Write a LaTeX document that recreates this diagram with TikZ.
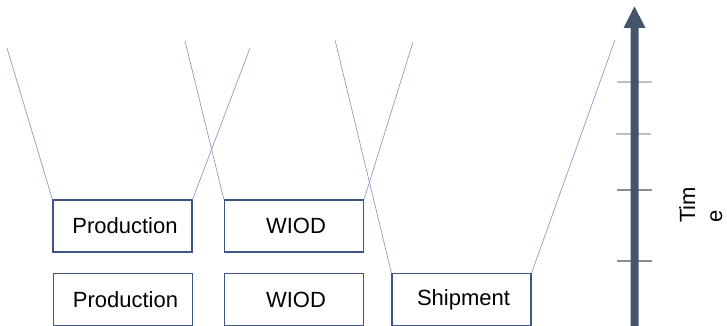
\documentclass[tikz,border=0pt]{standalone}
\usepackage{fontspec}
\setmainfont{Liberation Sans}
\definecolor{boxc}{HTML}{3F5586}
\definecolor{linec}{HTML}{8C9DBF}
\definecolor{arrc}{HTML}{44546A}
\definecolor{tickl}{HTML}{BFBFBF}
\definecolor{tickd}{HTML}{8C8C8C}
\tikzset{
  stagebox/.style={draw=boxc, line width=1.2pt, minimum width=139pt, minimum height=52pt, inner sep=0pt, font=\fontsize{22}{26}\selectfont},
  linkline/.style={draw=linec, line width=0.7pt},
  tickline/.style={line width=1.2pt}
}
\begin{document}
\begin{tikzpicture}[x=1pt,y=-1pt]
\useasboundingbox (0,0) rectangle (727,326);
\node[stagebox] (p1) at (122.5,226) {\hspace*{5pt}Production};
\node[stagebox] (w1) at (294,226) {\hspace*{4pt}WIOD};
\node[stagebox] (p2) at (123,299.5) {\hspace*{5pt}Production};
\node[stagebox] (w2) at (294,299.5) {\hspace*{4pt}WIOD};
\node[stagebox] (s2) at (461.5,299.5) {\hspace*{4pt}Shipment};
\coordinate (a0) at (7,48);
\coordinate (b0) at (185,41);
\coordinate (c0) at (250,48);
\coordinate (d0) at (335,40);
\coordinate (e0) at (413,42);
\coordinate (f0) at (615,40);
\draw[linkline] (a0) -- (p1.north west);
\draw[linkline] (c0) -- (p1.north east);
\draw[linkline] (b0) -- (w1.north west);
\draw[linkline] (e0) -- (w1.north east);
\draw[linkline] (d0) -- (s2.north west);
\draw[linkline] (f0) -- (s2.north east);
% ticks
\coordinate (t1l) at (617,82); \coordinate (t1r) at (652,82);
\coordinate (t2l) at (616,134); \coordinate (t2r) at (651,134);
\coordinate (t3l) at (617,190); \coordinate (t3r) at (652,190);
\coordinate (t4l) at (617,261); \coordinate (t4r) at (652,261);
\draw[tickline, draw=tickl] (t1l) -- (t1r);
\draw[tickline, draw=tickl] (t2l) -- (t2r);
\draw[tickline, draw=tickd] (t3l) -- (t3r);
\draw[tickline, draw=tickd] (t4l) -- (t4r);
% time arrow
\fill[arrc] (630.5,327) -- (630.5,28) -- (623.5,28) -- (634.5,6.5) -- (645.5,28) -- (638.5,28) -- (638.5,327) -- cycle;
\node[rotate=90, anchor=north west, inner sep=0pt, align=left, font=\fontsize{22}{27}\selectfont] (tm) at (679,223) {Tim\\e};
\end{tikzpicture}
\end{document}
